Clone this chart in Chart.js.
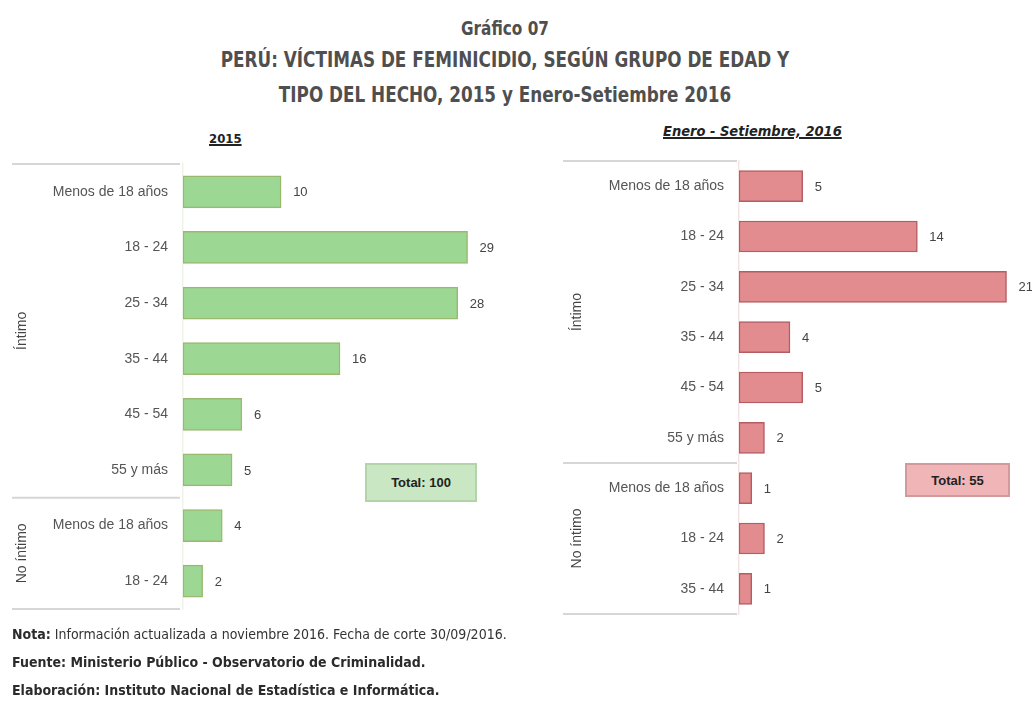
<!DOCTYPE html>
<html>
<head>
<meta charset="utf-8">
<script src="https://cdn.jsdelivr.net/npm/chart.js@4.4.0/dist/chart.umd.min.js"></script>
<style>
  body { margin: 0; width: 1032px; height: 704px; position: relative; background: #fff; overflow: hidden;
         font-family: "Liberation Sans Narrow", "DejaVu Sans Condensed", "Liberation Sans", sans-serif; }
  .abs { position: absolute; }
  #title { left: 0; width: 1010px; top: 14px; text-align: center; color: #4f4f4f; font-weight: bold;
           transform: scaleX(0.85); transform-origin: 505px 0; }
  #title div { white-space: nowrap; }
  #t0 { font-size: 20px; line-height: 28px; }
  #t1, #t2 { font-size: 22px; line-height: 35px; }
  .sub { font-weight: bold; font-size: 13px; color: #222; text-decoration: underline; text-decoration-thickness: 2px; white-space: nowrap; }
  .total { font-family: "Liberation Sans", sans-serif; font-weight: bold; font-size: 13px; color: #222;
           display: flex; align-items: center; justify-content: center; box-sizing: border-box; }
  #notes { left: 12px; top: 620px; font-size: 14px; color: #333; line-height: 28px; white-space: nowrap; }
  #notes b { color: #2b2b2b; }
</style>
</head>
<body>
<div id="title" class="abs">
  <div id="t0">Gráfico 07</div>
  <div id="t1">PERÚ: VÍCTIMAS DE FEMINICIDIO, SEGÚN GRUPO DE EDAD Y</div>
  <div id="t2">TIPO DEL HECHO, 2015 y Enero-Setiembre 2016</div>
</div>
<div class="abs sub" style="left:209px;top:131px;">2015</div>
<div class="abs sub" style="left:663px;top:123px;font-style:italic;font-size:14.5px;">Enero - Setiembre, 2016</div>

<div class="abs" style="left:0;top:150px;"><canvas id="c2015" width="500" height="475"></canvas></div>
<div class="abs" style="left:520px;top:150px;"><canvas id="c2016" width="512" height="475"></canvas></div>

<div id="tot2015" class="abs total" style="left:365px;top:463px;width:112px;height:39px;background:#c8e7c2;border:2px solid #b3d3a9;"></div>
<div id="tot2016" class="abs total" style="left:905px;top:463px;width:105px;height:34px;background:#efb5b7;border:2px solid #d29a9d;"></div>

<div id="notes" class="abs">
  <div><b>Nota:</b> Información actualizada a noviembre 2016. Fecha de corte 30/09/2016.</div>
  <div><b>Fuente: Ministerio Público - Observatorio de Criminalidad.</b></div>
  <div><b>Elaboración: Instituto Nacional de Estadística e Informática.</b></div>
</div>

<script>
// 2015
const labels2015 = ["Menos de 18 años", "18 - 24", "25 - 34", "35 - 44", "45 - 54", "55 y más", "Menos de 18 años", "18 - 24"];
const values2015 = [10, 29, 28, 16, 6, 5, 4, 2];
const groups2015 = ["Íntimo", "Íntimo", "Íntimo", "Íntimo", "Íntimo", "Íntimo", "No íntimo", "No íntimo"];

// Enero - Setiembre 2016
const labels2016 = ["Menos de 18 años", "18 - 24", "25 - 34", "35 - 44", "45 - 54", "55 y más", "Menos de 18 años", "18 - 24", "35 - 44"];
const values2016 = [5, 14, 21, 4, 5, 2, 1, 2, 1];
const groups2016 = ["Íntimo", "Íntimo", "Íntimo", "Íntimo", "Íntimo", "Íntimo", "No íntimo", "No íntimo", "No íntimo"];

const sum = arr => arr.reduce((a, b) => a + b, 0);
document.getElementById("tot2015").textContent = "Total: " + sum(values2015);
document.getElementById("tot2016").textContent = "Total: " + sum(values2016);

// value labels, group lines and rotated group names
const extras = {
  id: "extras",
  afterDatasetsDraw(chart, args, opts) {
    const ctx = chart.ctx;
    const y = chart.scales.y;
    const groups = opts.groups;
    const meta = chart.getDatasetMeta(0);

    ctx.save();
    ctx.font = "13px 'Liberation Sans', sans-serif";
    ctx.fillStyle = "#444";
    ctx.textAlign = "left";
    ctx.textBaseline = "middle";
    meta.data.forEach((bar, i) => {
      ctx.fillText(chart.data.datasets[0].data[i], bar.x + 12, bar.y + 1);
    });

    // group boundaries
    const half = (y.getPixelForValue(1) - y.getPixelForValue(0)) / 2;
    const bounds = [];
    let start = 0;
    for (let i = 1; i <= groups.length; i++) {
      if (i === groups.length || groups[i] !== groups[start]) {
        bounds.push({ name: groups[start], top: y.getPixelForValue(start) - half, bottom: y.getPixelForValue(i - 1) + half });
        start = i;
      }
    }
    ctx.strokeStyle = "#d6d6d6";
    ctx.lineWidth = 2;
    const lines = [bounds[0].top].concat(bounds.map(b => b.bottom));
    lines.forEach(ly => {
      ctx.beginPath();
      ctx.moveTo(opts.lineFrom, ly);
      ctx.lineTo(opts.lineTo, ly);
      ctx.stroke();
    });

    ctx.font = "14px 'Liberation Sans', sans-serif";
    ctx.fillStyle = "#444";
    ctx.textAlign = "center";
    bounds.forEach(b => {
      ctx.save();
      ctx.translate(opts.groupX, (b.top + b.bottom) / 2);
      ctx.rotate(-Math.PI / 2);
      ctx.fillText(b.name, 0, 0);
      ctx.restore();
    });
    ctx.restore();
  }
};

function makeChart(id, labels, values, groups, cfg) {
  return new Chart(document.getElementById(id), {
    type: "bar",
    data: {
      labels: labels,
      datasets: [{
        data: values,
        backgroundColor: cfg.fill,
        borderColor: cfg.border,
        borderWidth: 1.5,
        borderSkipped: false,
        barThickness: cfg.thick
      }]
    },
    options: {
      indexAxis: "y",
      responsive: false,
      animation: false,
      layout: { padding: cfg.padding },
      plugins: {
        legend: { display: false },
        tooltip: { enabled: false },
        extras: { groups: groups, lineFrom: cfg.lineFrom, lineTo: cfg.lineTo, groupX: cfg.groupX }
      },
      scales: {
        x: { display: false, min: 0, max: cfg.max },
        y: {
          afterFit: scale => {
            scale.width = cfg.axisWidth;
            scale.paddingTop = 0;
            scale.paddingBottom = 0;
          },
          grid: { display: false, drawTicks: false },
          border: { display: true, color: cfg.axisColor, width: 1.5 },
          ticks: {
            padding: 15,
            color: "#555",
            font: { family: "'Liberation Sans', sans-serif", size: 14 }
          }
        }
      }
    },
    plugins: [extras]
  });
}

makeChart("c2015", labels2015, values2015, groups2015, {
  fill: "#9dd794", border: "#9bb86f", thick: 32, max: 32,
  padding: { top: 14, bottom: 16, left: 0, right: 3 },
  axisWidth: 183, axisColor: "#eef3ea",
  lineFrom: 12, lineTo: 180, groupX: 22
});

makeChart("c2016", labels2016, values2016, groups2016, {
  fill: "#e38c90", border: "#b45e63", thick: 31, max: 23,
  padding: { top: 11, bottom: 11, left: 0, right: 0 },
  axisWidth: 219, axisColor: "#f6e3e3",
  lineFrom: 43, lineTo: 217, groupX: 57
});
</script>
</body>
</html>
